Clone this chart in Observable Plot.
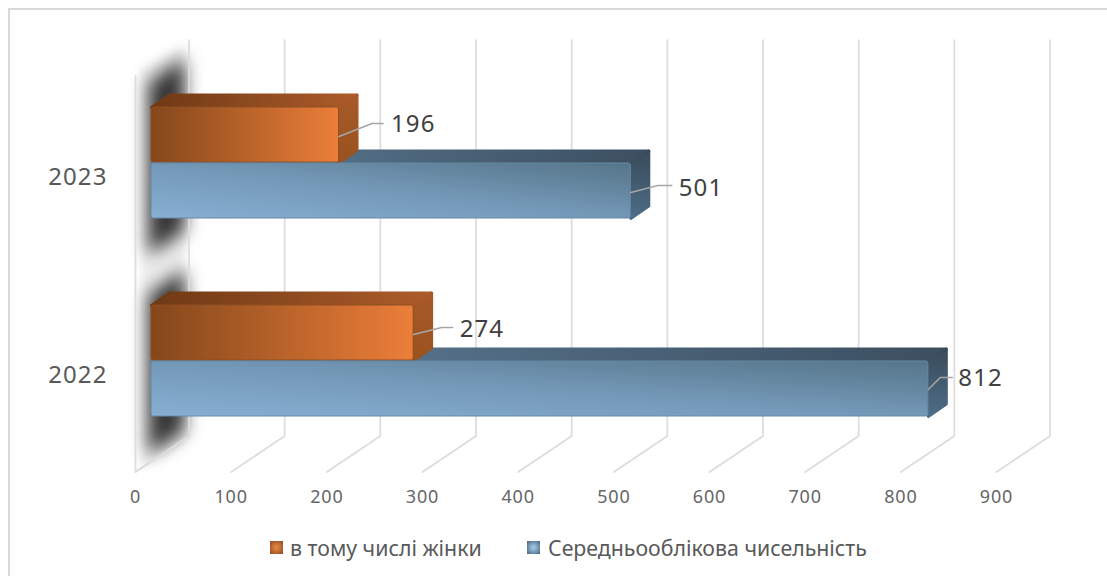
<!DOCTYPE html>
<html lang="uk">
<head>
<meta charset="utf-8">
<script src="https://cdn.jsdelivr.net/npm/d3@7"></script>
<script src="https://cdn.jsdelivr.net/npm/@observablehq/plot@0.6"></script>
<style>
  html, body { margin: 0; padding: 0; background: #fff; overflow: hidden; }
  #page { position: relative; width: 1107px; height: 576px; }
  #edge { position: absolute; left: 8px; top: 8px; right: 0; bottom: 0; border-top: 2px solid #d9d9d9; border-left: 2px solid #d9d9d9; pointer-events: none; }
  svg { display: block; }
  .wide text { letter-spacing: 1.1px; }
  .ticks text { letter-spacing: .8px; }
  #legend { position: relative; height: 46px; font: 21.3px "Noto Sans", sans-serif; color: #595959; }
  #legend span { position: absolute; top: 3px; white-space: nowrap; }
  #legend i { position: absolute; top: 11px; width: 13px; height: 13px; display: block; }
</style>
</head>
<body>
<div id="page"><div id="edge"></div><div id="chart"></div>
<div id="legend">
  <i style="left:270px;background:radial-gradient(#e0803f 15%,#8a4a1f 100%)"></i><span id="l0" style="left:290px"></span>
  <i style="left:527px;background:radial-gradient(#9cc0de 15%,#44627c 100%)"></i><span id="l1" style="left:548px"></span>
</div></div>
<script>
const years = [2022, 2023];
const seriesNames = ["в тому числі жінки", "Середньооблікова чисельність"];
const women = [274, 196];
const headcount = [812, 501];
const xTicks = [0, 100, 200, 300, 400, 500, 600, 700, 800, 900];

// pixel → data conversion of the pseudo-3D offsets
const W = 1107, H = 530;
const kx = 900 / 861, ky = 2 / 396;
const pt = (v, year, ox = 0, oy = 0) => ({x: v + ox * kx, y: year - oy * ky});
const poly = (id, pts) => [...pts, pts[0]].map(p => ({...p, id}));

const wall = {ox: 53.5, oy: -36};
const bar = {ox: 16, oy: 0, depthX: 18, depthY: -12.5};
const bands = {women: [-67.5, -12.5], headcount: [-11.5, 43.5]};

// gridlines on wall and floor
const yLow = 2021.5, yHigh = 2023.5;
const grid = xTicks.flatMap(v => [
  pt(v, yHigh, wall.ox, wall.oy), pt(v, yLow, wall.ox, wall.oy), pt(v, yLow)
].map(p => ({...p, id: v})));
const frontWall = [pt(0, yHigh), pt(0, yLow), pt(0, yLow, wall.ox, wall.oy)].map(p => ({...p, id: "f"}));

// soft shadows cast on the side wall
const shadows = [
  ...poly("s23", [pt(0, 2023, 13, -92), pt(0, 2023, 49, -118), pt(0, 2023, 49, 56), pt(0, 2023, 13, 80)]),
  ...poly("s22", [pt(0, 2022, 13, -78), pt(0, 2022, 49, -104), pt(0, 2022, 49, 58), pt(0, 2022, 13, 82)])
];
const wallHaze = poly("h", [pt(0, yHigh, 6, -6), pt(0, yHigh, 49, wall.oy + 6), pt(0, yLow, 49, wall.oy + 2), pt(0, yLow, 6, -2)]);

function faces(values, band, key) {
  const top = [], side = [], front = [];
  years.forEach((y, i) => {
    const v = values[i], [a, b] = band;
    const d = bar;
    top.push(...poly(`${key}t${y}`, [
      pt(0, y, d.ox, a), pt(v, y, d.ox, a),
      pt(v, y, d.ox + d.depthX, a + d.depthY), pt(0, y, d.ox + d.depthX, a + d.depthY)]));
    side.push(...poly(`${key}s${y}`, [
      pt(v, y, d.ox, a), pt(v, y, d.ox + d.depthX, a + d.depthY),
      pt(v, y, d.ox + d.depthX, b + d.depthY), pt(v, y, d.ox, b)]));
    const p0 = pt(0, y, d.ox, a), p1 = pt(v, y, d.ox, b);
    front.push({x1: p0.x, x2: p1.x, y1: p0.y, y2: p1.y});
  });
  return {top, side, front};
}
const fW = faces(women, bands.women, "w");
const fH = faces(headcount, bands.headcount, "h");

// leader lines and data labels
const lead = (id, v, y, pts) => pts.map(([ox, oy]) => ({...pt(v, y, 16 + ox, oy), id}));
const leaders = [
  ...lead("a", 196, 2023, [[0, -38.5], [33, -51.5], [44, -51.5]]),
  ...lead("b", 501, 2023, [[0, 17.5], [27, 10.5], [41, 10.5]]),
  ...lead("c", 274, 2022, [[0, -38.5], [28, -45.5], [39, -45.5]]),
  ...lead("d", 812, 2022, [[0, 16.5], [12, 4.5], [24, 4.5]])
];
const labels = [
  {...pt(196, 2023, 16 + 52, -50.5), t: women[1]},
  {...pt(501, 2023, 16 + 48, 13.5), t: headcount[1]},
  {...pt(274, 2022, 16 + 46, -43.5), t: women[0]},
  {...pt(812, 2022, 16 + 30, 5.5), t: headcount[0]}
];

function defs() {
  const d = d3.create("svg:defs");
  const grad = (id, [x1, y1, x2, y2], stops) => {
    const g = d.append("linearGradient").attr("id", id)
      .attr("x1", x1).attr("y1", y1).attr("x2", x2).attr("y2", y2);
    stops.forEach(([o, c]) => g.append("stop").attr("offset", o).attr("stop-color", c));
  };
  grad("oFront", [0, 0, 1, 0], [[0, "#84471b"], [1, "#ec7e39"]]);
  grad("oTop", [0, 0, 1, 0], [[0, "#6f3915"], [1, "#ad5c2a"]]);
  grad("oSide", [0, 0, 0, 1], [[0, "#a85a28"], [1, "#99521f"]]);
  grad("bFront", [0, 1, 1, 0], [[0, "#88afd3"], [.5, "#7398b7"], [1, "#557588"]]);
  grad("bTop", [0, 0, 1, 0], [[0, "#5f7f9b"], [1, "#3c4f60"]]);
  grad("bSide", [0, 0, 0, 1], [[0, "#394a5a"], [1, "#4e6d88"]]);
  return d.node();
}

const shape = (data, fill) => Plot.line(data, {x: "x", y: "y", z: "id", fill, stroke: fill, strokeWidth: 3, strokeLinejoin: "round"});

const chart = Plot.plot({
  width: W, height: H,
  marginLeft: 135, marginRight: W - 996, marginTop: 75.5, marginBottom: H - 471.5,
  x: {domain: [0, 900]},
  y: {domain: [yLow, yHigh]},
  style: {fontFamily: '"Noto Sans", sans-serif', background: "transparent"},
  marks: [
    defs,
    Plot.line(wallHaze, {x: "x", y: "y", z: "id", fill: "#ececec", stroke: "none", imageFilter: "blur(4px)"}),
    Plot.line(shadows, {x: "x", y: "y", z: "id", fill: "#333333", stroke: "none", imageFilter: "blur(9px)"}),
    Plot.line(grid, {x: "x", y: "y", z: "id", stroke: "#dcdcdc", strokeWidth: 1.7}),
    Plot.line(frontWall, {x: "x", y: "y", z: "id", stroke: "#dcdcdc", strokeWidth: 1.7}),
    Plot.axisX({ticks: xTicks, tickSize: 0, tickPadding: 18, tickFormat: "d", fontSize: 18, color: "#666666", className: "ticks", label: null}),
    Plot.axisY({ticks: years, tickSize: 0, tickPadding: 28, tickFormat: "d", fontSize: 24, color: "#595959", className: "wide", dy: 2, label: null}),
    shape(fH.top, "url(#bTop)"),
    shape(fH.side, "url(#bSide)"),
    shape(fW.top, "url(#oTop)"),
    shape(fW.side, "url(#oSide)"),
    Plot.rect(fW.front, {x1: "x1", x2: "x2", y1: "y1", y2: "y2", fill: "url(#oFront)", stroke: "#8f4f22", strokeWidth: 1, rx: 2}),
    Plot.rect(fH.front, {x1: "x1", x2: "x2", y1: "y1", y2: "y2", fill: "url(#bFront)", stroke: "#6788a5", strokeWidth: 1, rx: 2}),
    Plot.line(leaders, {x: "x", y: "y", z: "id", stroke: "#a6a6a6", strokeWidth: 1.6}),
    Plot.text(labels, {x: "x", y: "y", text: d => String(d.t), textAnchor: "start", fontSize: 24, fill: "#404040", className: "wide"})
  ]
});
document.getElementById("chart").append(chart);
document.getElementById("l0").textContent = seriesNames[0];
document.getElementById("l1").textContent = seriesNames[1];
</script>
</body>
</html>
